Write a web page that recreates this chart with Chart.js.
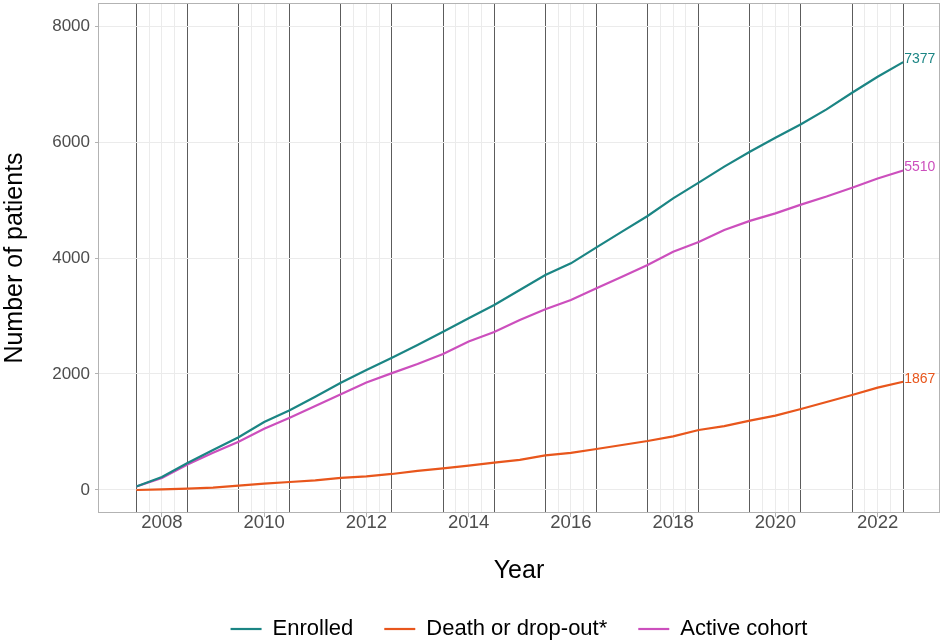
<!DOCTYPE html>
<html>
<head>
<meta charset="utf-8">
<script src="https://cdn.jsdelivr.net/npm/chart.js@4/dist/chart.umd.min.js"></script>
<style>
  html, body { margin: 0; padding: 0; background: #fff; }
  #wrap { width: 941px; height: 642px; }
</style>
</head>
<body>
<div id="wrap"><canvas id="chart"></canvas></div>
<script>
// values, every half year
const years = [2007.5, 2008, 2008.5, 2009, 2009.5, 2010, 2010.5, 2011, 2011.5, 2012, 2012.5,
  2013, 2013.5, 2014, 2014.5, 2015, 2015.5, 2016, 2016.5, 2017, 2017.5,
  2018, 2018.5, 2019, 2019.5, 2020, 2020.5, 2021, 2021.5, 2022, 2022.5];

const enrolled = [60, 225, 465, 690, 908, 1172, 1374, 1609, 1850, 2069, 2280,
  2500, 2730, 2960, 3190, 3448, 3707, 3908, 4184, 4454, 4724,
  5029, 5299, 5575, 5833, 6075, 6305, 6563, 6850, 7126, 7377];

const deathDropout = [0, 10, 22, 42, 74, 110, 138, 165, 207, 235, 276,
  328, 374, 419, 471, 520, 598, 640, 707, 776, 845,
  925, 1034, 1100, 1195, 1281, 1397, 1517, 1638, 1764, 1867];

const activeCohort = [60, 205, 440, 640, 833, 1055, 1245, 1448, 1650, 1855, 2015,
  2172, 2345, 2560, 2725, 2931, 3115, 3276, 3477, 3678, 3879,
  4109, 4275, 4483, 4640, 4770, 4920, 5060, 5212, 5370, 5510];

const majorYears = [2008, 2010, 2012, 2014, 2016, 2018, 2020, 2022];
const minorYears = [2007.75, 2008.25, 2009.75, 2010.25, 2011.75, 2012.25, 2013.75, 2014.25,
  2015.75, 2016.25, 2017.75, 2018.25, 2019.75, 2020.25, 2021.75, 2022.25];
const markerYears = [2007.5, 2008.5, 2009.5, 2010.5, 2011.5, 2012.5, 2013.5, 2014.5,
  2015.5, 2016.5, 2017.5, 2018.5, 2019.5, 2020.5, 2021.5, 2022.5];
const yTicks = [0, 2000, 4000, 6000, 8000];

const FONT = "'Liberation Sans', Arial, sans-serif";

function serie(label, values, color) {
  return {
    label: label,
    data: values.map((v, i) => ({ x: years[i], y: v })),
    borderColor: color,
    backgroundColor: color,
    borderWidth: 2.2,
    pointRadius: 0,
    tension: 0,
    fill: false
  };
}

// grey frame around the panel + value at the end of each line
const extras = {
  id: "extras",
  afterDatasetsDraw(chart) {
    const ctx = chart.ctx;
    const a = chart.chartArea;
    ctx.save();
    chart.data.datasets.forEach((ds, i) => {
      const meta = chart.getDatasetMeta(i);
      const last = meta.data[meta.data.length - 1];
      const val = ds.data[ds.data.length - 1].y;
      ctx.fillStyle = ds.borderColor;
      ctx.font = "14px " + FONT;
      ctx.textAlign = "left";
      ctx.textBaseline = "alphabetic";
      ctx.fillText(String(val), last.x + 1, last.y + 1);
    });
    ctx.strokeStyle = "#b3b3b3";
    ctx.lineWidth = 1;
    ctx.strokeRect(a.left + 0.5, a.top + 0.5, a.right - a.left - 1, a.bottom - a.top - 1);
    ctx.restore();
  }
};

new Chart(document.getElementById("chart"), {
  type: "line",
  data: {
    datasets: [
      serie("Enrolled", enrolled, "#1b8584"),
      serie("Death or drop-out*", deathDropout, "#e8561c"),
      serie("Active cohort", activeCohort, "#cc4fbd")
    ]
  },
  options: {
    responsive: true,
    maintainAspectRatio: false,
    animation: false,
    layout: { autoPadding: false, padding: { top: 3, right: 1, left: 0, bottom: -8 } },
    plugins: {
      tooltip: { enabled: false },
      legend: {
        position: "bottom",
        fullSize: false,
        labels: {
          usePointStyle: true,
          pointStyle: "line",
          pointStyleWidth: 31,
          padding: 31,
          color: "#000",
          font: { family: FONT, size: 22 }
        }
      }
    },
    scales: {
      x: {
        type: "linear",
        min: 2006.75,
        max: 2023.22,
        afterBuildTicks: s => {
          s.ticks = markerYears.concat(majorYears, minorYears)
            .sort((a, b) => a - b)
            .map(v => ({ value: v }));
        },
        afterFit: s => { s.height = 74; s.paddingLeft = 0; s.paddingRight = 0; },
        border: { display: false },
        grid: {
          color: c => markerYears.includes(c.tick.value) ? "#5c5c5c" : "#ebebeb",
          lineWidth: 1,
          tickLength: 4,
          tickColor: c => majorYears.includes(c.tick.value) ? "#b3b3b3" : "rgba(0,0,0,0)"
        },
        ticks: {
          autoSkip: false,
          maxRotation: 0,
          padding: -3,
          color: "#4d4d4d",
          font: { family: FONT, size: 18.5, lineHeight: 1 },
          callback: v => majorYears.includes(v) ? String(v) : ""
        },
        title: {
          display: true,
          text: "Year",
          color: "#000",
          padding: { top: 0, bottom: 1 },
          font: { family: FONT, size: 25 }
        }
      },
      y: {
        min: -397,
        max: 8397,
        afterBuildTicks: s => { s.ticks = yTicks.map(v => ({ value: v })); },
        afterFit: s => { s.width = 98; s.paddingTop = 0; s.paddingBottom = 0; },
        border: { display: false },
        grid: {
          color: "#ebebeb",
          lineWidth: 1,
          tickLength: 3,
          tickColor: "#b3b3b3"
        },
        ticks: {
          padding: 5,
          color: "#4d4d4d",
          font: { family: FONT, size: 17 },
          callback: v => String(v)
        },
        title: {
          display: true,
          text: "Number of patients",
          color: "#000",
          padding: { top: 0, bottom: 0 },
          font: { family: FONT, size: 25 }
        }
      }
    }
  },
  plugins: [extras]
});
</script>
</body>
</html>
